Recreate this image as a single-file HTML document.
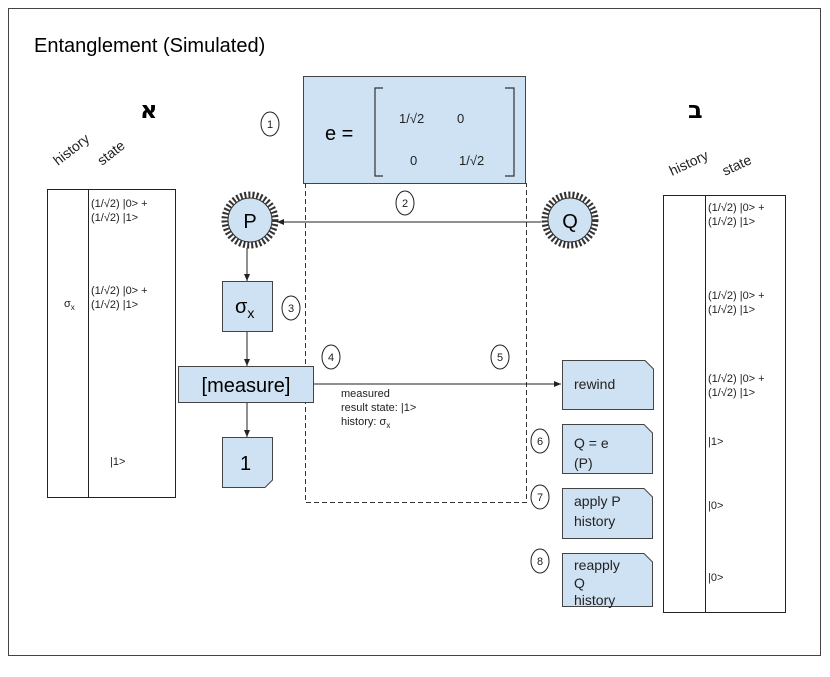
<!DOCTYPE html>
<html><head><meta charset="utf-8"><style>
html,body{margin:0;padding:0;background:#fff}
svg{display:block;font-family:"Liberation Sans","Noto Sans CJK JP",sans-serif}
</style></head><body>
<svg width="830" height="677" viewBox="0 0 830 677" xmlns="http://www.w3.org/2000/svg">
<defs>
<marker id="a" markerWidth="8" markerHeight="8" refX="7" refY="4" orient="auto" markerUnits="userSpaceOnUse"><path d="M0,1 L7,4 L0,7 z" fill="#222"/></marker>
</defs>
<rect x="8.5" y="8.5" width="812" height="647" fill="#fff" stroke="#444" stroke-width="1"/>
<text x="34" y="52" font-size="20" fill="#000">Entanglement (Simulated)</text>

<text x="140" y="118" font-size="24" font-weight="bold" fill="#000" font-family="DejaVu Sans, sans-serif">א</text>
<text x="688" y="118" font-size="24" font-weight="bold" fill="#000" font-family="DejaVu Sans, sans-serif">ב</text>

<text x="0" y="0" font-size="14" fill="#222" transform="translate(58,166) rotate(-38)">history</text>
<text x="0" y="0" font-size="14" fill="#222" transform="translate(102,166) rotate(-38)">state</text>
<rect x="47.5" y="189.5" width="128" height="308" fill="#fff" stroke="#222"/>
<line x1="88.5" y1="189.5" x2="88.5" y2="497.5" stroke="#222"/>
<g font-size="11" fill="#222">
<text x="91" y="207">(1/√2) |0&gt; +</text>
<text x="91" y="221">(1/√2) |1&gt;</text>
<text x="91" y="294">(1/√2) |0&gt; +</text>
<text x="91" y="308">(1/√2) |1&gt;</text>
<text x="64" y="307">σ<tspan font-size="8" dy="3">x</tspan></text>
<text x="110" y="465">|1&gt;</text>
</g>

<text x="0" y="0" font-size="14" fill="#222" transform="translate(672,176) rotate(-25)">history</text>
<text x="0" y="0" font-size="14" fill="#222" transform="translate(725,176) rotate(-25)">state</text>
<rect x="663.5" y="195.5" width="122" height="417" fill="#fff" stroke="#222"/>
<line x1="705.5" y1="195.5" x2="705.5" y2="612.5" stroke="#222"/>
<g font-size="11" fill="#222">
<text x="708" y="211">(1/√2) |0&gt; +</text>
<text x="708" y="225">(1/√2) |1&gt;</text>
<text x="708" y="299">(1/√2) |0&gt; +</text>
<text x="708" y="313">(1/√2) |1&gt;</text>
<text x="708" y="382">(1/√2) |0&gt; +</text>
<text x="708" y="396">(1/√2) |1&gt;</text>
<text x="708" y="445">|1&gt;</text>
<text x="708" y="509">|0&gt;</text>
<text x="708" y="581">|0&gt;</text>
</g>

<rect x="303.5" y="76.5" width="222" height="107" fill="#cfe2f3" stroke="#444"/>
<text x="325" y="140" font-size="20" fill="#000">e =</text>
<path d="M383,88 L375,88 L375,176 L383,176" fill="none" stroke="#333" stroke-width="1.2"/>
<path d="M505,88 L514,88 L514,176 L505,176" fill="none" stroke="#333" stroke-width="1.2"/>
<g font-size="13" fill="#222">
<text x="399" y="123">1/√2</text><text x="457" y="123">0</text>
<text x="410" y="165">0</text><text x="459" y="165">1/√2</text>
</g>
<path d="M305.5,183 L305.5,502.5 L526.5,502.5 L526.5,183" fill="none" stroke="#333" stroke-dasharray="5,3"/>

<g>
<circle cx="250" cy="220" r="25" fill="none" stroke="#333" stroke-width="7" stroke-dasharray="2,2"/>
<circle cx="250" cy="220" r="22" fill="#cfe2f3" stroke="#333"/>
<text x="250" y="228" font-size="20" text-anchor="middle">P</text>
<circle cx="570" cy="220" r="25" fill="none" stroke="#333" stroke-width="7" stroke-dasharray="2,2"/>
<circle cx="570" cy="220" r="22" fill="#cfe2f3" stroke="#333"/>
<text x="570" y="228" font-size="20" text-anchor="middle">Q</text>
</g>
<line x1="541" y1="222" x2="277" y2="222" stroke="#222" marker-end="url(#a)"/>

<line x1="247" y1="248" x2="247" y2="281" stroke="#222" marker-end="url(#a)"/>
<rect x="222.5" y="281.5" width="50" height="50" fill="#cfe2f3" stroke="#444"/>
<text x="235" y="313" font-size="20">σ<tspan font-size="14" dy="5">x</tspan></text>
<line x1="247" y1="332" x2="247" y2="366" stroke="#222" marker-end="url(#a)"/>
<rect x="178.5" y="366.5" width="135" height="36" fill="#cfe2f3" stroke="#444"/>
<text x="246" y="392" font-size="20" text-anchor="middle">[measure]</text>
<line x1="247" y1="403" x2="247" y2="437" stroke="#222" marker-end="url(#a)"/>
<path d="M222.5,437.5 L272.5,437.5 L272.5,480 L265,487.5 L222.5,487.5 Z" fill="#cfe2f3" stroke="#444"/>
<text x="240" y="470" font-size="20">1</text>

<line x1="314" y1="384" x2="561" y2="384" stroke="#222" marker-end="url(#a)"/>
<g font-size="11" fill="#222">
<text x="341" y="397">measured</text>
<text x="341" y="411">result state: |1&gt;</text>
<text x="341" y="425">history: σ<tspan font-size="8" dy="3">x</tspan></text>
</g>

<g fill="#cfe2f3" stroke="#444">
<path d="M562.5,360.5 L645,360.5 L653.5,369 L653.5,409.5 L562.5,409.5 Z"/>
<path d="M562.5,424.5 L644,424.5 L652.5,433 L652.5,473.5 L562.5,473.5 Z"/>
<path d="M562.5,488.5 L644,488.5 L652.5,497 L652.5,538.5 L562.5,538.5 Z"/>
<path d="M562.5,553.5 L644,553.5 L652.5,562 L652.5,606.5 L562.5,606.5 Z"/>
</g>
<g font-size="14" fill="#222">
<text x="574" y="389">rewind</text>
<text x="574" y="448">Q = e</text><text x="574" y="468">(P)</text>
<text x="574" y="506">apply P</text><text x="574" y="526">history</text>
<text x="574" y="570">reapply</text><text x="574" y="588">Q</text><text x="574" y="605">history</text>
</g>

<g fill="#fff" stroke="#222" stroke-width="1">
<ellipse cx="270" cy="124" rx="9" ry="12"/>
<ellipse cx="405" cy="203" rx="9" ry="12"/>
<ellipse cx="291" cy="308" rx="9" ry="12"/>
<ellipse cx="331" cy="357" rx="9" ry="12"/>
<ellipse cx="500" cy="357" rx="9" ry="12"/>
<ellipse cx="540" cy="441" rx="9" ry="12"/>
<ellipse cx="540" cy="497" rx="9" ry="12"/>
<ellipse cx="540" cy="561" rx="9" ry="12"/>
</g>
<g font-size="11" fill="#222" text-anchor="middle">
<text x="270" y="128">1</text>
<text x="405" y="207">2</text>
<text x="291" y="312">3</text>
<text x="331" y="361">4</text>
<text x="500" y="361">5</text>
<text x="540" y="445">6</text>
<text x="540" y="501">7</text>
<text x="540" y="565">8</text>
</g>
</svg>
</body></html>
